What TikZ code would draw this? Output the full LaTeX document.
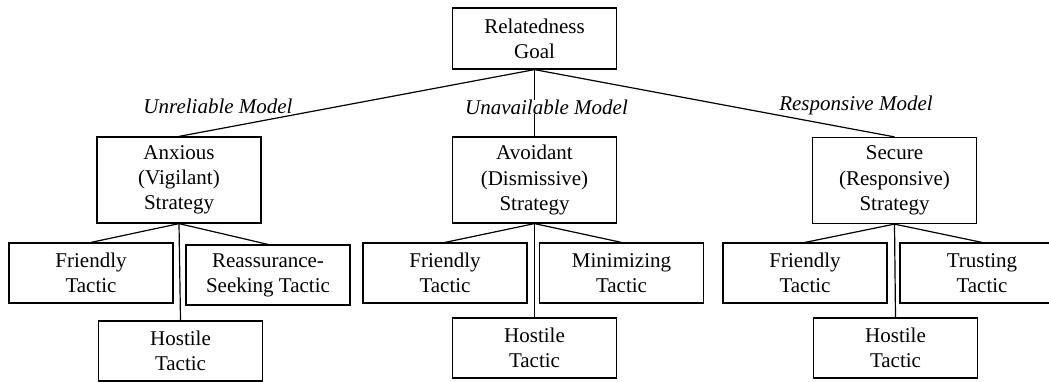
\documentclass[tikz,border=0pt]{standalone}
\usepackage{fontspec}
\setmainfont{Liberation Serif}
\usetikzlibrary{arrows,shapes}
\tikzstyle{block}=[rectangle,draw,line width=0.6pt,align=center,minimum width=82pt,inner sep=0pt,font=\fontsize{10.5}{12.6}\selectfont]
\tikzstyle{edge} = [draw,line width=0.6pt,-]
\tikzstyle{model}=[font=\fontsize{10.5}{12.6}\selectfont\itshape,inner sep=0pt]

\begin{document}
\begin{tikzpicture}[x=0.5pt,y=-0.5pt]
        \tikzset{strategy/.style={block,minimum height=43pt},
                 tactic/.style={block,minimum height=30pt}}
        \clip (0,0) rectangle (1049,381);
        \node[block,minimum height=30.5pt] (goal) at (534.5,38.5) {Relatedness\\Goal};
        % strategies
        \node[strategy] (anx) at (179,180) {Anxious\\(Vigilant)\\Strategy};
        \node[strategy] (avo) at (534.5,180) {Avoidant\\(Dismissive)\\Strategy};
        \node[strategy] (sec) at (894.5,180.5) {Secure\\(Responsive)\\Strategy};
        % tactics
        \node[tactic] (anxf) at (91,273) {Friendly\\Tactic};
        \node[tactic] (anxr) at (268,275) {Reassurance-\\Seeking Tactic};
        \node[tactic] (anxh) at (180.5,351) {Hostile\\Tactic};
        \node[tactic] (avof) at (445,273) {Friendly\\Tactic};
        \node[tactic] (avom) at (621.5,273) {Minimizing\\Tactic};
        \node[tactic] (avoh) at (534.5,348) {Hostile\\Tactic};
        \node[tactic] (secf) at (805,273) {Friendly\\Tactic};
        \node[tactic] (sect) at (982,273) {Trusting\\Tactic};
        \node[tactic] (sech) at (895.5,348) {Hostile\\Tactic};
        \draw[edge] (goal.south) to (anx.north);
        \draw[edge] (goal.south) to (avo.north);
        \draw[edge] (goal.south) to (sec.north);
        \draw[edge] (anx.south) to (anxf.north);
        \draw[edge] (anx.south) to (anxr.north);
        \draw[edge] (anx.south) to (anxh.north);
        \draw[edge] (avo.south) to (avof.north);
        \draw[edge] (avo.south) to (avom.north);
        \draw[edge] (avo.south) to (avoh.north);
        \draw[edge] (sec.south) to (secf.north);
        \draw[edge] (sec.south) to (sect.north);
        \draw[edge] (sec.south) to (sech.north);
        % model labels
        \node[model] (unrel) at (218,106) {Unreliable Model};
        \node[model,fill=white] (unav) at (546.5,107) {Unavailable Model};
        \node[model] (resp) at (856,105) {Responsive Model};
      \end{tikzpicture}
\end{document}
